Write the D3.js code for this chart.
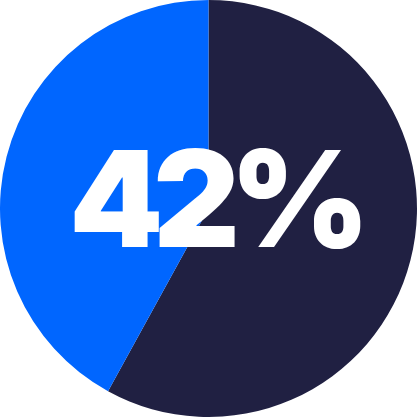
<!DOCTYPE html>
<html><head><meta charset="utf-8">
<script src="https://cdn.jsdelivr.net/npm/d3@7"></script>
<style>html,body{margin:0;padding:0;background:#fff;}svg{display:block;}</style>
</head><body>
<svg id="c" width="417" height="417"></svg>
<script>
const categories = ["Other", "Share"];
const values = [58, 42];
const colors = ["#202042", "#0066FF"];
const label = "42%";

const W = 417, H = 417, R = 208.5;
const svg = d3.select("#c");
const g = svg.append("g").attr("transform", `translate(${W/2},${H/2})`);
const pie = d3.pie().sort(null).value(d => d)(values);
const arc = d3.arc().innerRadius(0).outerRadius(R);
const color = d3.scaleOrdinal().domain(categories).range(colors);
g.selectAll("path").data(pie).join("path")
  .attr("d", arc)
  .attr("fill", (d, i) => color(categories[i]));
g.append("text")
  .attr("x", 6).attr("y", -10)
  .attr("dy", "0.36em")
  .attr("text-anchor", "middle")
  .attr("fill", "#fff")
  .style("font-family", "Inter, 'DejaVu Sans', sans-serif")
  .style("font-weight", 900)
  .style("font-size", "134px")
  .style("letter-spacing", "-10px")
  .text(label);
</script>
</body></html>
